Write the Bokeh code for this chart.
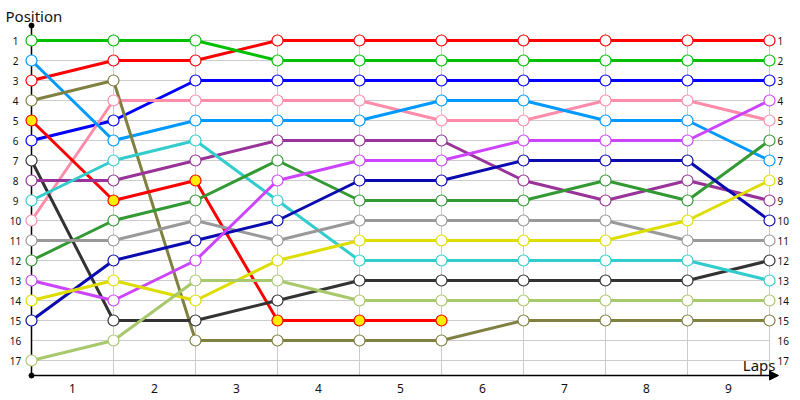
from bokeh.plotting import figure
from bokeh.models import Range1d, Label, Arrow, NormalHead, ColumnDataSource
from bokeh.core.properties import value
from bokeh.embed import file_html
from bokeh.resources import INLINE

laps = [0, 1, 2, 3, 4, 5, 6, 7, 8, 9]
lap_labels = ["1", "2", "3", "4", "5", "6", "7", "8", "9"]
positions_axis = list(range(1, 18))

drivers = ["Red", "Green", "Blue", "Pink", "LightBlue", "Olive", "RedYellow", "Dark",
           "Purple", "Cyan", "DarkGreen", "Gray", "Navy", "Magenta", "Yellow", "LightGreen"]
line_colors = ["#FF0000", "#00C000", "#0000FF", "#FF8CAA", "#0099FF", "#808040", "#FF0000", "#333333",
               "#993399", "#33CCCC", "#339933", "#999999", "#0A0AB0", "#CC44FF", "#DDDD00", "#A8C86C"]
fill_colors = ["white"] * 6 + ["#FFEE00"] + ["white"] * 9

pos_red = [3, 2, 2, 1, 1, 1, 1, 1, 1, 1]
pos_green = [1, 1, 1, 2, 2, 2, 2, 2, 2, 2]
pos_blue = [6, 5, 3, 3, 3, 3, 3, 3, 3, 3]
pos_pink = [10, 4, 4, 4, 4, 5, 5, 4, 4, 5]
pos_lightblue = [2, 6, 5, 5, 5, 4, 4, 5, 5, 7]
pos_olive = [4, 3, 16, 16, 16, 16, 15, 15, 15, 15]
pos_redyellow = [5, 9, 8, 15, 15, 15]
pos_dark = [7, 15, 15, 14, 13, 13, 13, 13, 13, 12]
pos_purple = [8, 8, 7, 6, 6, 6, 8, 9, 8, 9]
pos_cyan = [9, 7, 6, 9, 12, 12, 12, 12, 12, 13]
pos_darkgreen = [12, 10, 9, 7, 9, 9, 9, 8, 9, 6]
pos_gray = [11, 11, 10, 11, 10, 10, 10, 10, 11, 11]
pos_navy = [15, 12, 11, 10, 8, 8, 7, 7, 7, 10]
pos_magenta = [13, 14, 12, 8, 7, 7, 6, 6, 6, 4]
pos_yellow = [14, 13, 14, 12, 11, 11, 11, 11, 10, 8]
pos_lightgreen = [17, 16, 13, 13, 14, 14, 14, 14, 14, 14]

series = [pos_red, pos_green, pos_blue, pos_pink, pos_lightblue, pos_olive, pos_redyellow, pos_dark,
          pos_purple, pos_cyan, pos_darkgreen, pos_gray, pos_navy, pos_magenta, pos_yellow, pos_lightgreen]

FONT = "Noto Sans"
TXT = "#111111"

# one lap column = 82 px, one position row = 20 px
p = figure(width=800, height=400, output_backend="svg", toolbar_location=None,
           x_range=Range1d(-31 / 82, 769 / 82), y_range=Range1d(19, -1),
           min_border=0, x_axis_type=None, y_axis_type=None)
p.outline_line_color = None
p.xgrid.visible = False
p.ygrid.visible = False
p.background_fill_color = "white"
p.border_fill_color = "white"

x_first, x_last = laps[0], laps[-1]
y_top_axis, y_bottom_axis = 0.25, 17.75

# horizontal grid lines
p.segment(x0=[x_first] * len(positions_axis), y0=positions_axis,
          x1=[x_last] * len(positions_axis), y1=positions_axis, line_color="#CCCCCC", line_width=1)
# vertical grid lines
p.segment(x0=laps[1:], y0=[0.65] * 9, x1=laps[1:], y1=[y_bottom_axis] * 9, line_color="#CCCCCC", line_width=1)

# axes lines
p.segment(x0=[x_first], y0=[y_top_axis], x1=[x_first], y1=[y_bottom_axis], line_color="black", line_width=1.5)
p.add_layout(Arrow(end=NormalHead(size=9, fill_color="black", line_color="black"),
                   line_color="black", line_width=1.5,
                   x_start=x_first, y_start=y_bottom_axis, x_end=747 / 82, y_end=y_bottom_axis))
p.scatter([x_first, x_first], [y_top_axis, y_bottom_axis], size=5, color="black")

# tick labels
p.text(x=[-16 / 82] * len(positions_axis), y=positions_axis, text=[str(v) for v in positions_axis],
       text_font=value(FONT), text_font_size="10px", text_align="center", text_baseline="middle",
       text_color=TXT)
p.text(x=[x_last] * len(positions_axis), y=positions_axis, text=[str(v) for v in positions_axis],
       x_offset=8, text_font=value(FONT), text_font_size="10px", text_align="left", text_baseline="middle",
       text_color=TXT)
p.text(x=[i + 0.5 for i in range(len(lap_labels))], y=[18.4] * len(lap_labels), text=lap_labels,
       text_font=value(FONT), text_font_size="12px", text_align="center", text_baseline="middle",
       text_color=TXT)

for name, pos, lc, fc in zip(drivers, series, line_colors, fill_colors):
    src = ColumnDataSource(dict(x=laps[:len(pos)], y=pos))
    p.line("x", "y", source=src, line_color=lc, line_width=3)
for name, pos, lc, fc in zip(drivers, series, line_colors, fill_colors):
    src = ColumnDataSource(dict(x=laps[:len(pos)], y=pos))
    p.scatter("x", "y", source=src, size=11, fill_color=fc, line_color=lc, line_width=1.2, marker="circle")

p.add_layout(Label(x=-26 / 82, y=-0.25, text="Position", text_font=FONT, text_font_size="15px",
                   text_baseline="middle", text_align="left", text_color=TXT))
p.add_layout(Label(x=744 / 82, y=17.2, text="Laps", text_font=FONT, text_font_size="15px",
                   text_baseline="middle", text_align="right", text_color=TXT))

open("out.html", "w").write(file_html(p, INLINE))
